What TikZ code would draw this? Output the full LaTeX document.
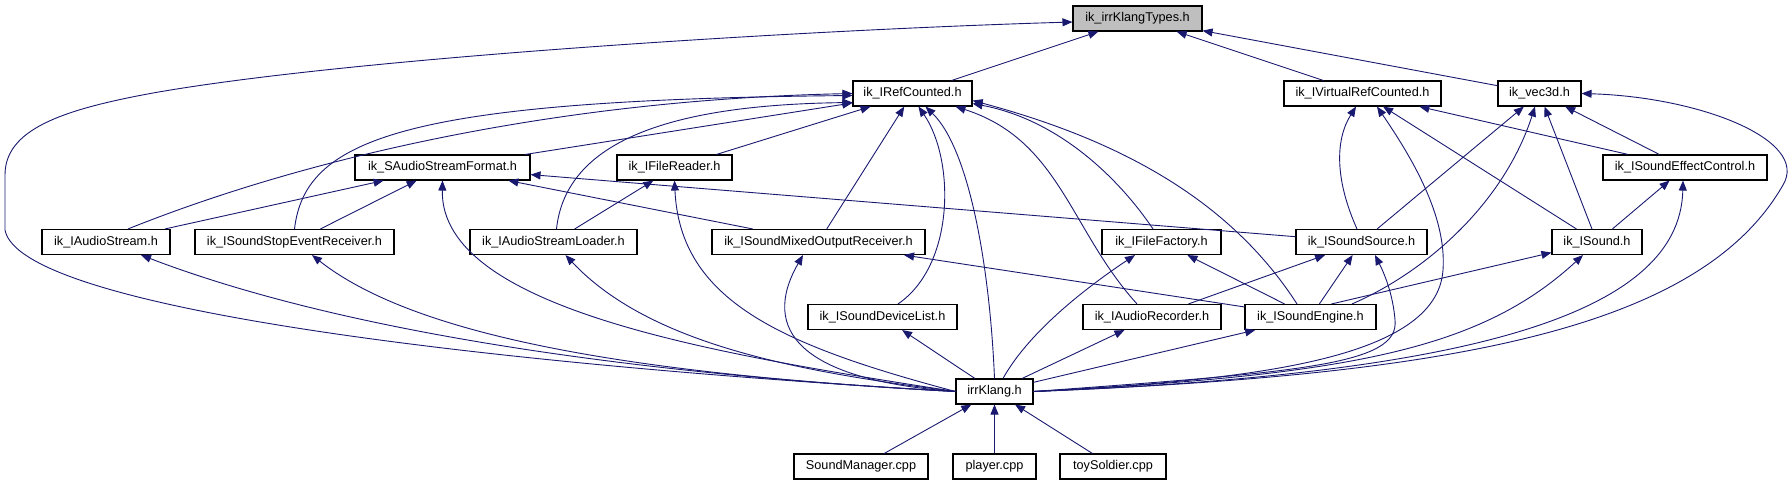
\documentclass[tikz,border=0pt]{standalone}
\usepackage{fontspec}
\setmainfont{Liberation Sans}
\definecolor{DoxyEdge}{RGB}{25, 25, 112}
\definecolor{DoxyGray}{RGB}{191, 191, 191}
\usetikzlibrary{arrows.meta}
\tikzset{
  hfile/.style={draw=black, line width=1.1pt, fill=white, inner sep=0pt, minimum height=25pt, font=\fontsize{12.7}{15}\selectfont},
  incl/.style={draw=DoxyEdge, line width=0.9pt, -{Triangle[length=10pt, width=8pt]}}
}
\begin{document}
\begin{tikzpicture}[x=1pt, y=-1pt]
  \useasboundingbox (0,0) rectangle (1792,485);
  \node[hfile, fill=DoxyGray, minimum width=129pt] (types) at (1137.5,18.5) {ik\_irrKlangTypes.h};
  \node[hfile, minimum width=119pt] (refc) at (912.5,93.5) {ik\_IRefCounted.h};
  \node[hfile, minimum width=157pt] (vrefc) at (1362.5,93.5) {ik\_IVirtualRefCounted.h};
  \node[hfile, minimum width=83pt] (vec) at (1539.5,93.5) {ik\_vec3d.h};
  \node[hfile, minimum width=175pt] (safmt) at (442.5,167.5) {ik\_SAudioStreamFormat.h};
  \node[hfile, minimum width=115pt] (freader) at (674.5,167.5) {ik\_IFileReader.h};
  \node[hfile, minimum width=164pt] (effect) at (1685,167.5) {ik\_ISoundEffectControl.h};
  \node[hfile, minimum width=128pt] (astream) at (106,242) {ik\_IAudioStream.h};
  \node[hfile, minimum width=199pt] (stopev) at (294.5,242) {ik\_ISoundStopEventReceiver.h};
  \node[hfile, minimum width=167pt] (loader) at (553.5,242) {ik\_IAudioStreamLoader.h};
  \node[hfile, minimum width=213pt] (mixed) at (818.5,242) {ik\_ISoundMixedOutputReceiver.h};
  \node[hfile, minimum width=119pt] (ffactory) at (1161.5,242) {ik\_IFileFactory.h};
  \node[hfile, minimum width=131pt] (source) at (1361.5,242) {ik\_ISoundSource.h};
  \node[hfile, minimum width=90pt] (sound) at (1597,242) {ik\_ISound.h};
  \node[hfile, minimum width=149pt] (devlist) at (882.5,317) {ik\_ISoundDeviceList.h};
  \node[hfile, minimum width=138pt] (recorder) at (1152,317) {ik\_IAudioRecorder.h};
  \node[hfile, minimum width=131pt] (engine) at (1310.5,317) {ik\_ISoundEngine.h};
  \node[hfile, minimum width=77pt] (irrk) at (994.5,391.5) {irrKlang.h};
  \node[hfile, minimum width=134pt] (mgr) at (861,466.5) {SoundManager.cpp};
  \node[hfile, minimum width=83pt] (player) at (994.5,466.5) {player.cpp};
  \node[hfile, minimum width=106pt] (toy) at (1113,466.5) {toySoldier.cpp};

  \draw[incl] (refc) -- (types);
  \draw[incl] (vrefc) -- (types);
  \draw[incl] (vec) -- (types);
  \draw[incl] (irrk.west) .. controls (500,365) and (20,310) .. (5,230) -- (5,175)
    .. controls (5,130) and (60,110) .. (153,93) .. controls (350,58) and (800,30) .. ([yshift=-3.5pt]types.west);

  \draw[incl] ([xshift=22pt]astream.north) .. controls (300,160) and (550,100) .. (refc.west);
  \draw[incl] (stopev.north) .. controls (305,140) and (400,100) .. ([yshift=-2pt]refc.west);
  \draw[incl] ([xshift=3pt]loader.north) .. controls (565,150) and (650,105) .. ([yshift=-9pt]refc.west);
  \draw[incl] (safmt) -- (refc);
  \draw[incl] (freader) -- (refc);
  \draw[incl] (mixed) -- (refc);
  \draw[incl] ([xshift=15.5pt]devlist.north) .. controls (955,265) and (955,160) .. ([xshift=6pt]refc.south);
  \draw[incl] (irrk.north) .. controls (990,270) and (970,150) .. ([xshift=13pt]refc.south);
  \draw[incl] ([xshift=-15pt]recorder.north) .. controls (1070,230) and (1060,140) .. ([xshift=43pt]refc.south);
  \draw[incl] ([xshift=-8.5pt]ffactory.north) .. controls (1120,180) and (1060,120) .. ([yshift=3pt]refc.south east);
  \draw[incl] ([xshift=-13.5pt]engine.north) .. controls (1230,200) and (1120,140) .. ([yshift=6pt]refc.south east);

  \draw[incl] (astream) -- (safmt);
  \draw[incl] (stopev) -- (safmt);
  \draw[incl] (mixed) -- (safmt);
  \draw[incl] (source) -- (safmt);
  \draw[incl] (irrk.west) .. controls (720,355) and (440,310) .. (safmt.south);

  \draw[incl] (loader) -- (freader);
  \draw[incl] (irrk.west) .. controls (780,345) and (680,300) .. (freader.south);

  \draw[incl] ([xshift=-4.5pt]source.north) .. controls (1335,180) and (1335,140) .. ([xshift=-6.5pt]vrefc.south);
  \draw[incl] (irrk.east) .. controls (1250,380) and (1437,360) .. (1443,270)
    .. controls (1447,215) and (1410,155) .. ([xshift=14.5pt]vrefc.south);
  \draw[incl] (sound) -- (vrefc);
  \draw[incl] (effect) -- (vrefc);

  \draw[incl] (source) -- (vec);
  \draw[incl] ([xshift=41.5pt]engine.north) .. controls (1430,270) and (1505,200) .. ([xshift=-4.5pt]vec.south);
  \draw[incl] (sound) -- (vec);
  \draw[incl] (effect) -- (vec);
  \draw[incl] (irrk.east) .. controls (1450,375) and (1700,330) .. (1783,185)
    .. controls (1810,140) and (1700,97) .. (vec.east);

  \draw[incl] (sound) -- (effect);
  \draw[incl] (irrk.east) .. controls (1450,375) and (1680,320) .. ([xshift=-2pt]effect.south);

  \draw[incl] (irrk.west) .. controls (650,375) and (350,335) .. ([xshift=35pt]astream.south);
  \draw[incl] (irrk.west) .. controls (650,375) and (420,340) .. ([xshift=17.5pt]stopev.south);
  \draw[incl] (irrk.west) .. controls (800,372) and (650,345) .. ([xshift=12pt]loader.south);
  \draw[incl] (irrk.west) .. controls (800,380) and (760,330) .. ([xshift=-15.5pt]mixed.south);
  \draw[incl] (engine) -- (mixed);
  \draw[incl] (irrk) -- (devlist);
  \draw[incl] ([xshift=8.5pt]irrk.north) .. controls (1030,330) and (1090,285) .. ([xshift=-26.5pt]ffactory.south);
  \draw[incl] (engine) -- (ffactory);
  \draw[incl] (irrk) -- (recorder);

  \draw[incl] (recorder) -- (source);
  \draw[incl] (engine) -- (source);
  \draw[incl] (irrk.east) .. controls (1300,372) and (1400,365) .. (1395,320)
    .. controls (1393,295) and (1385,275) .. ([xshift=13.5pt]source.south);
  \draw[incl] ([xshift=21pt]engine.north) -- (sound);
  \draw[incl] (irrk.east) .. controls (1350,375) and (1480,350) .. ([xshift=-14pt]sound.south);
  \draw[incl] (irrk) -- (engine);

  \draw[incl] (mgr) -- (irrk);
  \draw[incl] (player) -- (irrk);
  \draw[incl] (toy) -- (irrk);
\end{tikzpicture}
\end{document}
